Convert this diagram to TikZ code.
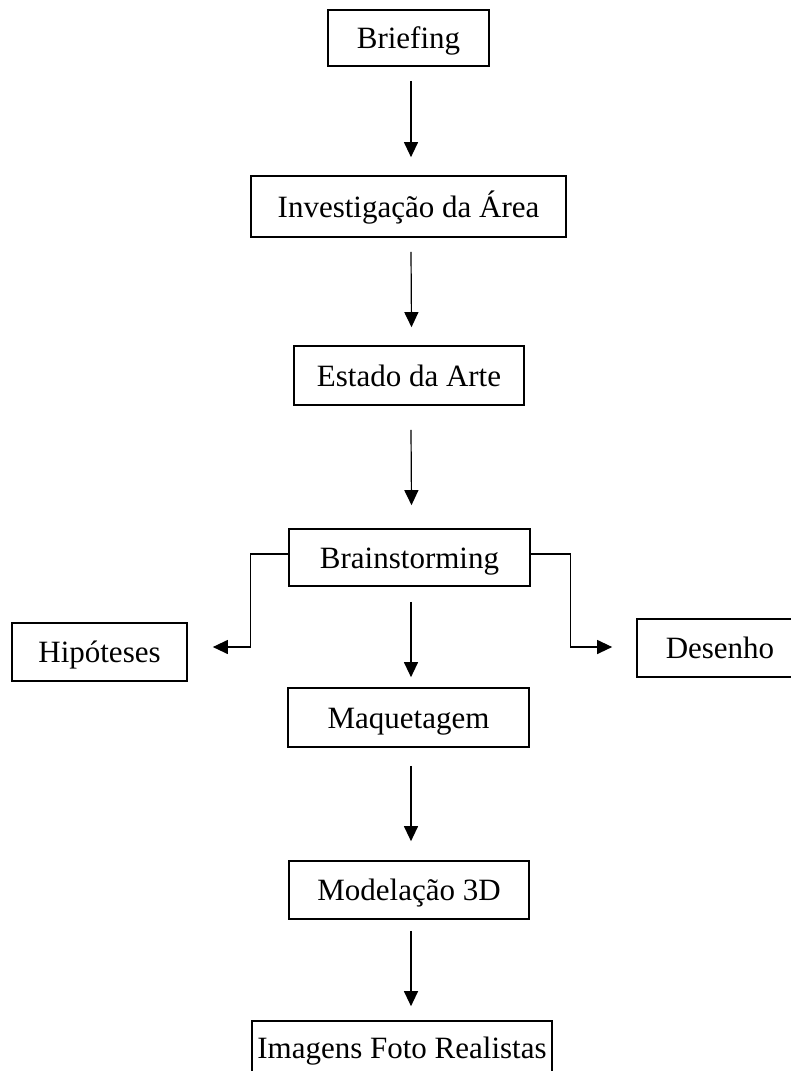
\documentclass[tikz,border=0pt]{standalone}
\usepackage{fontspec}
\setmainfont{Liberation Serif}
\usetikzlibrary{arrows.meta}
\begin{document}
\begin{tikzpicture}[x=1pt,y=-1pt,
  stepbox/.style={draw=black,line width=1.7pt,rectangle,inner sep=0pt,
    font=\fontsize{31}{36}\selectfont,text height=21pt,text depth=0pt,
    minimum width=#1},
  arr/.style={line width=1.2pt,-{Triangle[length=15pt,width=14pt]}},
  elbow/.style={line width=1.2pt,-{Triangle[length=15pt,width=14pt]}}]
  \useasboundingbox (0,0) rectangle (791,1071);

  % main flow
  \node[stepbox=161pt,minimum height=56pt] (brief)  at (408.5,38)   {Briefing};
  \node[stepbox=315pt,minimum height=61pt] (inv)    at (408.5,206.5){Investigação da Área};
  \node[stepbox=230pt,minimum height=59pt] (estado) at (409,375.5)  {Estado da Arte};
  \node[stepbox=241pt,minimum height=57pt] (brain)  at (409.5,557.5){Brainstorming};
  \node[stepbox=241pt,minimum height=59pt] (maq)    at (408.5,717.5){Maquetagem};
  \node[stepbox=240pt,minimum height=58pt] (mod)    at (409,890)    {Modelação 3D};
  \node[stepbox=300pt,minimum height=54pt] (img)    at (402,1048)   {Imagens Foto Realistas};

  % side branches
  \node[stepbox=175pt,minimum height=58pt] (hip) at (99.5,652) {Hipóteses};
  \node[stepbox=166pt,minimum height=58pt] (des) at (720,648)  {Desenho};

  % vertical arrows
  \draw[arr] ([xshift=2.5pt,yshift=-14pt]brief.south)  -- ([xshift=2.5pt,yshift=18pt]inv.north);
  \draw[arr] ([xshift=2.5pt,yshift=-14pt]inv.south)    -- ([xshift=2.5pt,yshift=18pt]estado.north);
  \draw[arr] ([xshift=2pt,yshift=-24pt]estado.south)   -- ([xshift=2pt,yshift=23pt]brain.north);
  \draw[arr] ([xshift=1.5pt,yshift=-15pt]brain.south)  -- ([xshift=2.5pt,yshift=10pt]maq.north);
  \draw[arr] ([xshift=2.5pt,yshift=-18pt]maq.south)    -- ([xshift=2pt,yshift=19pt]mod.north);
  \draw[arr] ([xshift=2pt,yshift=-11pt]mod.south)      -- ([xshift=9pt,yshift=14pt]img.north);

  % elbow connectors to the side branches
  \draw[elbow] ([yshift=3.5pt]brain.west) -- ++(-38,0) |- ([xshift=25pt,yshift=5pt]hip.east);
  \draw[elbow] ([yshift=3.5pt]brain.east) -- ++(40,0)  |- ([xshift=-24pt,yshift=1pt]des.west);
\end{tikzpicture}
\end{document}
